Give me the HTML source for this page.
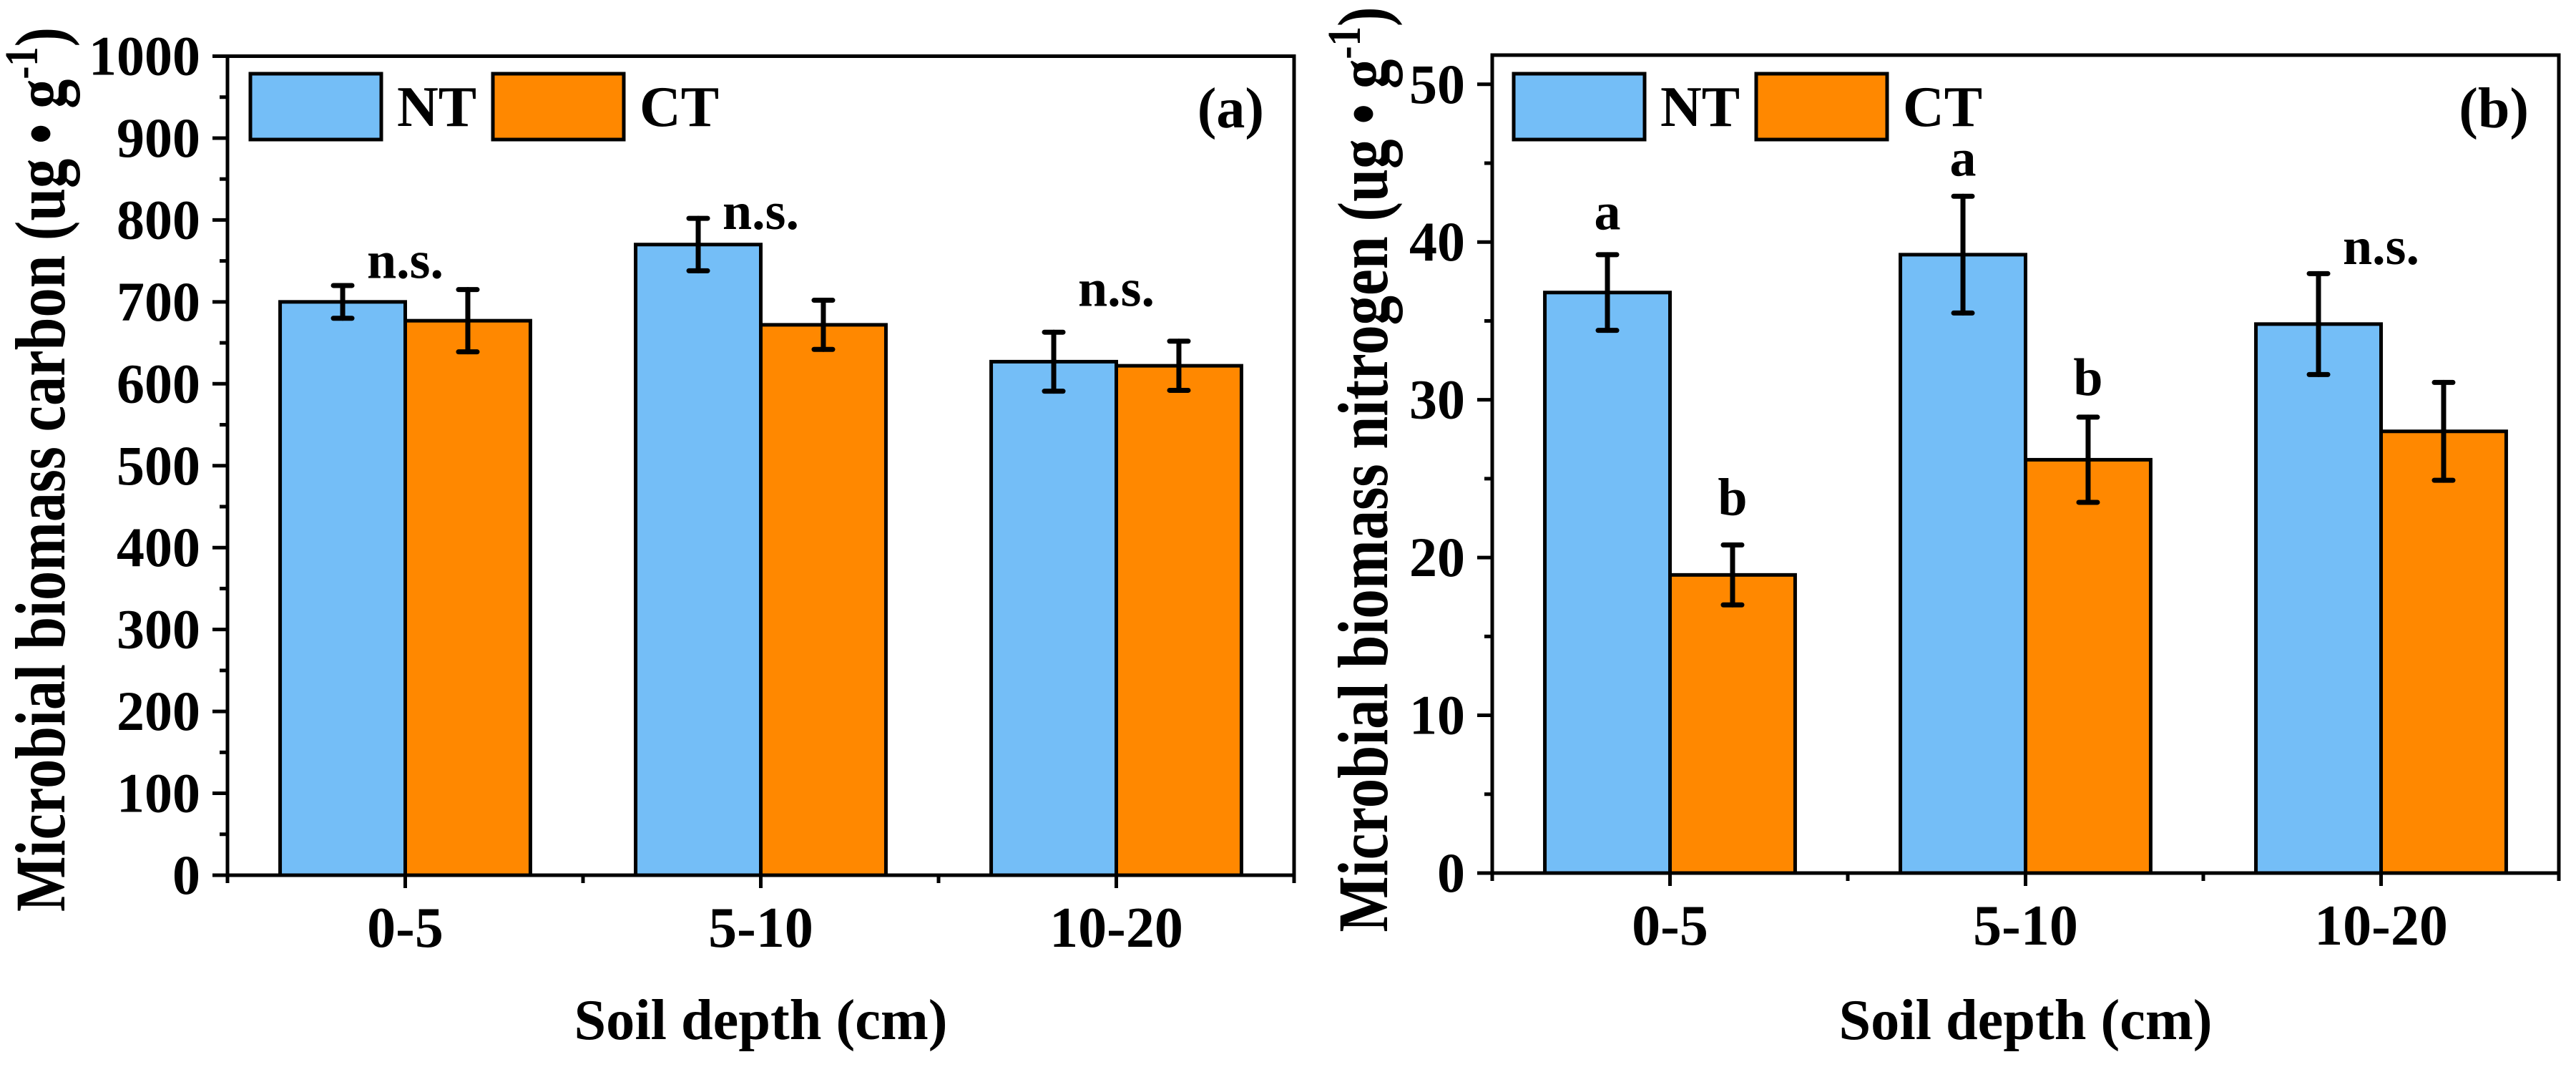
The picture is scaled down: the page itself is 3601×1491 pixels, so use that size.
<!DOCTYPE html>
<html><head><meta charset="utf-8"><style>
html,body{margin:0;padding:0;background:#fff;}
svg{display:block;font-family:"Liberation Serif",serif;font-weight:bold;}
</style></head><body>
<svg id="fig" width="3601" height="1491" viewBox="0 0 3601 1491" xmlns="http://www.w3.org/2000/svg"></svg>
<script>
const categories = ["0-5", "5-10", "10-20"];
const seriesNames = ["NT", "CT"];
const carbonNT = [700, 770, 627];
const carbonCT = [677, 672, 622];
const carbonNTErr = [20, 32, 36];
const carbonCTErr = [38, 30, 30];
const carbonLabels = ["n.s.", "n.s.", "n.s."];
const carbonLabelVals = [729, 789, 695];
const carbonTicks = [0,100,200,300,400,500,600,700,800,900,1000];
const nitrogenNT = [36.8, 39.2, 34.8];
const nitrogenCT = [18.9, 26.2, 28.0];
const nitrogenNTErr = [2.4, 3.7, 3.2];
const nitrogenCTErr = [1.9, 2.7, 3.1];
const nitrogenLabels = ["a", "b", "a", "b", "n.s."];
const nitrogenLabelVals = [40.8, 22.7, 44.2, 30.3, 38.6];
const nitrogenTicks = [0,10,20,30,40,50];

const NS = "http://www.w3.org/2000/svg";
const svg = document.getElementById("fig");
const COLORS = ["#74bef7", "#ff8800"];
function el(tag, attrs, parent, txt){
  const e = document.createElementNS(NS, tag);
  for (const k in attrs) e.setAttribute(k, attrs[k]);
  if (txt !== undefined) e.textContent = txt;
  (parent || svg).appendChild(e);
  return e;
}

function panel(cfg){
  const g = el("g", {});
  
  
  const L = cfg.left, R = cfg.right, T = cfg.top, B = cfg.bottom;
  const y = v => B - (v - cfg.ymin) / (cfg.ymax - cfg.ymin) * (B - T);
  const x = c => L + (c - 0.5) / 3 * (R - L);
  const step = (R - L) / 3;
  const bw = step * 0.352;

  const series = [cfg.nt, cfg.ct], errs = [cfg.ntErr, cfg.ctErr];
  for (let s = 0; s < 2; s++) {
    for (let i = 0; i < categories.length; i++) {
      const cx = x(i + 1);
      const x0 = s === 0 ? cx - bw : cx;
      const v = series[s][i];
      const r = el("rect", {x: x0, y: y(v), width: bw, height: y(cfg.ymin) - y(v), fill: COLORS[s], stroke: "#000", "stroke-width": 5}, g);
      
      
    }
  }
  for (let s = 0; s < 2; s++) {
    for (let i = 0; i < categories.length; i++) {
      const ex = x(i + 1) + (s === 0 ? -bw / 2 : bw / 2);
      const v = series[s][i], e = errs[s][i];
      const eg = el("g", {stroke: "#000", "stroke-width": 7, "stroke-linecap": "round"}, g);
      
      
      el("line", {x1: ex, x2: ex, y1: y(v + e), y2: y(v - e)}, eg);
      el("line", {x1: ex - 13, x2: ex + 13, y1: y(v + e), y2: y(v + e)}, eg);
      el("line", {x1: ex - 13, x2: ex + 13, y1: y(v - e), y2: y(v - e)}, eg);
    }
  }
  const fr = el("rect", {x: L, y: T, width: R - L, height: B - T, fill: "none", stroke: "#000", "stroke-width": 5}, g);
  
  
  const yt = el("g", {}, g);
  
  
  for (let k = 0; k < cfg.ticks.length; k++) {
    const v = cfg.ticks[k];
    el("line", {x1: L - 21, x2: L, y1: y(v), y2: y(v), stroke: "#000", "stroke-width": 5}, yt);
    const t = el("text", {x: L - 38, y: y(v) + 26, "font-size": 78, "text-anchor": "end"}, yt, String(v));
    
    
    if (k < cfg.ticks.length - 1) {
      const mv = (v + cfg.ticks[k + 1]) / 2;
      el("line", {x1: L - 11, x2: L, y1: y(mv), y2: y(mv), stroke: "#000", "stroke-width": 5}, yt);
    }
  }
  const xt = el("g", {}, g);
  
  
  for (let i = 0; i < categories.length; i++) {
    el("line", {x1: x(i + 1), x2: x(i + 1), y1: B, y2: B + 18, stroke: "#000", "stroke-width": 5}, xt);
    const t = el("text", {x: x(i + 1), y: B + 100, "font-size": 80, "text-anchor": "middle"}, xt, categories[i]);
    
    
  }
  for (let i = 0; i <= 3; i++) {
    el("line", {x1: x(i + 0.5), x2: x(i + 0.5), y1: B, y2: B + 11, stroke: "#000", "stroke-width": 5}, xt);
  }
  cfg.annots.forEach(a => {
    const t = el("text", {x: a.x(x, bw), y: y(a.v), "font-size": 74, "text-anchor": "middle"}, g, a.t);
    
    
  });
  const lg = el("g", {}, g);
  
  
  const lx = cfg.legendX;
  const ent = [[lx, lx + 183, lx + 205], [lx + 339, lx + 522, lx + 544]];
  for (let s = 0; s < 2; s++) {
    const eg = el("g", {}, lg);
    
    
    el("rect", {x: ent[s][0], y: 103, width: 183, height: 92, fill: COLORS[s], stroke: "#000", "stroke-width": 5}, eg);
    el("text", {x: ent[s][2], y: 176, "font-size": 80}, eg, seriesNames[s]);
  }
  const pl = el("text", {x: R - 42, y: 178, "font-size": 80, "text-anchor": "end"}, g, cfg.panelLabel);
  
  
  const xtitle = el("text", {x: (L + R) / 2, y: 1452, "font-size": 80, "text-anchor": "middle", textLength: 522, lengthAdjust: "spacingAndGlyphs"}, g, "Soil depth (cm)");
  
  
  const ytitle = el("text", {x: 0, y: 0, "font-size": 100, "text-anchor": "middle", textLength: cfg.titleLen, lengthAdjust: "spacingAndGlyphs", transform: "translate(" + cfg.titleX + "," + cfg.titleY + ") rotate(-90)"}, g);
  
  
  el("tspan", {}, ytitle, cfg.yTitle + " (ug \u2022 g");
  el("tspan", {dy: -38, "font-size": 66}, ytitle, "-1");
  el("tspan", {dy: 38}, ytitle, ")");
}

panel({name: "panel-a-carbon", left: 318, right: 1809, top: 78.5, bottom: 1223, ymin: 0, ymax: 1000,
  nt: carbonNT, ct: carbonCT, ntErr: carbonNTErr, ctErr: carbonCTErr, ticks: carbonTicks,
  annots: categories.map((c, i) => ({t: carbonLabels[i], v: carbonLabelVals[i], x: (x) => x(i + 1)})),
  legendX: 350, panelLabel: "(a)", yTitle: "Microbial biomass carbon", titleX: 90, titleY: 656, titleLen: 1236});

panel({name: "panel-b-nitrogen", left: 2086, right: 3577, top: 77, bottom: 1220, ymin: 0, ymax: 51.85,
  nt: nitrogenNT, ct: nitrogenCT, ntErr: nitrogenNTErr, ctErr: nitrogenCTErr, ticks: nitrogenTicks,
  annots: [
    {t: nitrogenLabels[0], v: nitrogenLabelVals[0], x: (x, bw) => x(1) - bw / 2},
    {t: nitrogenLabels[1], v: nitrogenLabelVals[1], x: (x, bw) => x(1) + bw / 2},
    {t: nitrogenLabels[2], v: nitrogenLabelVals[2], x: (x, bw) => x(2) - bw / 2},
    {t: nitrogenLabels[3], v: nitrogenLabelVals[3], x: (x, bw) => x(2) + bw / 2},
    {t: nitrogenLabels[4], v: nitrogenLabelVals[4], x: (x) => x(3)}
  ],
  legendX: 2116, panelLabel: "(b)", yTitle: "Microbial biomass nitrogen", titleX: 1939, titleY: 656, titleLen: 1293});
</script>
</body></html>
